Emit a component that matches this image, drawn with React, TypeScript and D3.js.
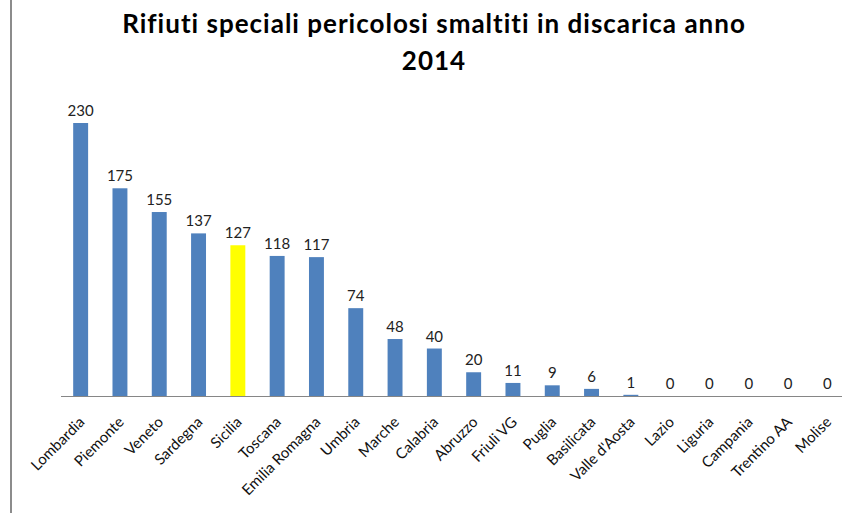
import { useEffect, useRef } from 'react'
import { scaleBand, scaleLinear, select } from 'd3'

const regions = [
  'Lombardia',
  'Piemonte',
  'Veneto',
  'Sardegna',
  'Sicilia',
  'Toscana',
  'Emilia Romagna',
  'Umbria',
  'Marche',
  'Calabria',
  'Abruzzo',
  'Friuli VG',
  'Puglia',
  'Basilicata',
  "Valle d'Aosta",
  'Lazio',
  'Liguria',
  'Campania',
  'Trentino AA',
  'Molise',
]
const tons = [230, 175, 155, 137, 127, 118, 117, 74, 48, 40, 20, 11, 9, 6, 1, 0, 0, 0, 0, 0]
const highlighted = ['Sicilia']
const titleLines = ['Rifiuti speciali pericolosi smaltiti in discarica anno', '2014']

const W = 842
const H = 513
const FONT = 'Lato, Calibri, sans-serif'

export default function App() {
  const ref = useRef<SVGSVGElement>(null)

  useEffect(() => {
    if (!ref.current) return
    const svg = select(ref.current)
    svg.selectAll('*').remove()

    const axisY = 396
    const x = scaleBand().domain(regions).range([61, 847]).paddingInner(0.62).paddingOuter(0.31)
    const y = scaleLinear().domain([0, 230]).range([axisY, 123])

    // frame line on the left
    svg.append('line').attr('x1', 11).attr('x2', 11).attr('y1', 0).attr('y2', H).attr('stroke', '#8c8c8c').attr('stroke-width', 2)

    // title
    svg
      .append('g')
      .selectAll('text')
      .data(titleLines)
      .join('text')
      .attr('x', 434)
      .attr('y', (_, i) => 33 + i * 37)
      .attr('text-anchor', 'middle')
      .attr('font-family', FONT)
      .attr('font-weight', 'bold')
      .attr('font-size', 26)
      .attr('letter-spacing', 1)
      .attr('fill', '#000')
      .text((d) => d)

    const data = regions.map((r, i) => ({ r, v: tons[i] }))

    svg
      .append('g')
      .selectAll('rect')
      .data(data)
      .join('rect')
      .attr('x', (d) => x(d.r) ?? 0)
      .attr('y', (d) => y(d.v))
      .attr('width', x.bandwidth())
      .attr('height', (d) => axisY - y(d.v))
      .attr('fill', (d) => (highlighted.includes(d.r) ? '#ffff00' : '#4f81bd'))

    // axis line
    svg.append('line').attr('x1', 61).attr('x2', W).attr('y1', axisY + 0.5).attr('y2', axisY + 0.5).attr('stroke', '#868686')

    // value labels
    svg
      .append('g')
      .selectAll('text')
      .data(data)
      .join('text')
      .attr('x', (d) => (x(d.r) ?? 0) + x.bandwidth() / 2)
      .attr('y', (d) => y(d.v) - 7)
      .attr('text-anchor', 'middle')
      .attr('font-family', FONT)
      .attr('font-size', 15)
      .attr('fill', '#222')
      .text((d) => d.v)

    // category labels
    svg
      .append('g')
      .selectAll('text')
      .data(regions)
      .join('text')
      .attr('transform', (d) => `translate(${(x(d) ?? 0) + x.bandwidth() / 2 + 5},${axisY + 27}) rotate(-45)`)
      .attr('text-anchor', 'end')
      .attr('font-family', FONT)
      .attr('font-size', 15)
      .attr('fill', '#111')
      .text((d) => d)
  }, [])

  return <svg ref={ref} width={W} height={H} style={{ position: 'absolute', left: 0, top: 0, background: '#fff' }} />
}
